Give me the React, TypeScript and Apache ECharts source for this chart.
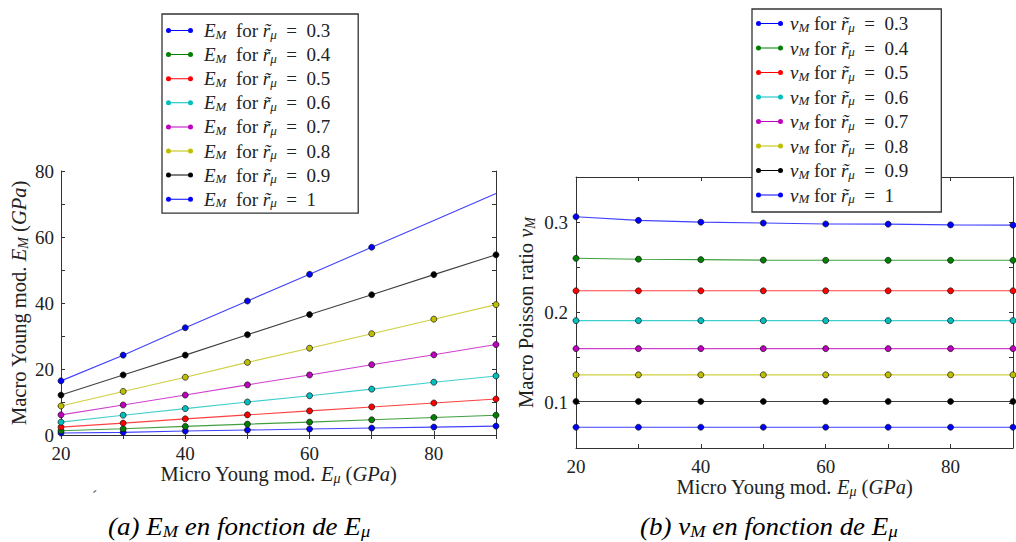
import React, { useEffect, useRef } from "react";
import * as echarts from "echarts";

const microYoung = [20, 30, 40, 50, 60, 70, 80, 90];
const ratios = ["0.3", "0.4", "0.5", "0.6", "0.7", "0.8", "0.9", "1"];
const colors = ["#0000ff", "#008000", "#ff0000", "#00bfbf", "#bf00bf", "#bfbf00", "#000000", "#0000ff"];

const macroYoung03 = [0.6, 0.8, 1.2, 1.5, 1.8, 2.1, 2.4, 2.7];
const macroYoung04 = [1.3, 1.9, 2.6, 3.3, 3.9, 4.6, 5.3, 6.0];
const macroYoung05 = [2.4, 3.6, 4.9, 6.1, 7.3, 8.5, 9.7, 10.9];
const macroYoung06 = [3.9, 6.0, 8.0, 10.0, 11.9, 13.9, 16.0, 17.9];
const macroYoung07 = [6.1, 9.1, 12.1, 15.2, 18.2, 21.3, 24.3, 27.4];
const macroYoung08 = [8.8, 13.2, 17.5, 22.0, 26.3, 30.7, 35.1, 39.5];
const macroYoung09 = [12.1, 18.2, 24.2, 30.4, 36.5, 42.5, 48.6, 54.6];
const macroYoung10 = [16.4, 24.2, 32.5, 40.6, 48.7, 56.9, 65.0, 73.2];
const macroYoung = [macroYoung03, macroYoung04, macroYoung05, macroYoung06, macroYoung07, macroYoung08, macroYoung09, macroYoung10];

const poisson03 = [0.306, 0.302, 0.3, 0.299, 0.298, 0.2978, 0.297, 0.2967];
const poisson04 = [0.26, 0.259, 0.2585, 0.258, 0.2578, 0.2578, 0.2578, 0.2578];
const poisson05 = [0.224, 0.224, 0.224, 0.224, 0.224, 0.224, 0.224, 0.224];
const poisson06 = [0.191, 0.191, 0.191, 0.191, 0.191, 0.191, 0.191, 0.191];
const poisson07 = [0.16, 0.16, 0.16, 0.16, 0.16, 0.16, 0.16, 0.16];
const poisson08 = [0.131, 0.131, 0.131, 0.131, 0.131, 0.131, 0.131, 0.131];
const poisson09 = [0.1015, 0.1015, 0.1015, 0.1015, 0.1015, 0.1015, 0.1015, 0.1015];
const poisson10 = [0.073, 0.073, 0.073, 0.073, 0.073, 0.073, 0.073, 0.073];
const poisson = [poisson03, poisson04, poisson05, poisson06, poisson07, poisson08, poisson09, poisson10];

// markers absent in the reference for the top curve of (a)
const missingMarkersYoung10 = [80, 90];

const FONT = "'Liberation Serif', serif";
const TXT = "#222";

const richBase = (size: number, lh: number) => ({
  n: { fontFamily: FONT, fontSize: size, lineHeight: lh, color: TXT },
  it: { fontFamily: FONT, fontSize: size, lineHeight: lh, color: TXT, fontStyle: "italic" },
  sub: { fontFamily: FONT, fontSize: Math.round(size * 0.68), color: TXT, fontStyle: "italic", verticalAlign: "bottom" },
});

const legendIcon =
  "path://M0.5,3A2.5,2.5,0,1,1,5.5,3A2.5,2.5,0,1,1,0.5,3ZM3,2.5L25,2.5L25,3.5L3,3.5ZM22.5,3A2.5,2.5,0,1,1,27.5,3A2.5,2.5,0,1,1,22.5,3Z";

export default function App() {
  const ref = useRef<HTMLDivElement>(null);
  useEffect(() => {
    if (!ref.current) return;
    const chart = echarts.init(ref.current, null, { renderer: "svg" });
    const axisLine = { show: true, lineStyle: { color: "#333", width: 1 } };
    const tick = { show: true, inside: true, length: 4, lineStyle: { color: "#333" } };
    const labelStyle = { fontFamily: FONT, fontSize: 19, color: TXT };

    const youngNames = ratios.map((r) => "E_M r=" + r);
    const poissonNames = ratios.map((r) => "nu_M r=" + r);

    const series: any[] = [];
    ratios.forEach((r, k) => {
      series.push({
        name: youngNames[k],
        type: "line",
        xAxisIndex: 0,
        yAxisIndex: 0,
        data: microYoung.map((x, i) => {
          const item: any = { value: [x, macroYoung[k][i]] };
          if (k === ratios.length - 1 && missingMarkersYoung10.includes(x)) item.symbol = "none";
          return item;
        }),
        symbol: "circle",
        symbolSize: 6,
        showSymbol: true,
        lineStyle: { color: colors[k], width: 1.1, opacity: 0.75 },
        itemStyle: { color: colors[k], borderColor: "#111", borderWidth: 0.7 },
        z: 3,
      });
    });
    ratios.forEach((r, k) => {
      series.push({
        name: poissonNames[k],
        type: "line",
        xAxisIndex: 1,
        yAxisIndex: 1,
        data: microYoung.map((x, i) => [x, poisson[k][i]]),
        symbol: "circle",
        symbolSize: 6,
        lineStyle: { color: colors[k], width: 1.1, opacity: 0.75 },
        itemStyle: { color: colors[k], borderColor: "#111", borderWidth: 0.7 },
        z: 3,
      });
    });

    const legendCommon = {
      orient: "vertical",
      icon: legendIcon,
      itemWidth: 27,
      itemHeight: 5,
      backgroundColor: "#fff",
      borderColor: "#333",
      borderWidth: 1.3,
      borderRadius: 0,
      selectedMode: false,
      itemStyle: { borderWidth: 0 },
      z: 10,
    };

    const captionRich = {
      it: { fontFamily: FONT, fontSize: 25, lineHeight: 26, fontStyle: "italic", color: "#111" },
      sub: { fontFamily: FONT, fontSize: 17, fontStyle: "italic", color: "#111", verticalAlign: "bottom" },
    };

    chart.setOption({
      animation: false,
      backgroundColor: "#fff",
      textStyle: { fontFamily: FONT, color: TXT },
      grid: [
        { left: 61, top: 171, width: 435, height: 264 },
        { left: 576, top: 177, width: 446, height: 271 },
      ],
      xAxis: [
        {
          type: "value", gridIndex: 0, min: 20, max: 90, interval: 10,
          axisLine, axisTick: tick, splitLine: { show: false },
          axisLabel: { ...labelStyle, margin: 9, formatter: (v: number) => (v % 20 === 0 ? String(v) : "") },
          name: "{n|Micro Young mod. }{it|E}{sub|μ}{n| (}{it|GPa}{n|)}",
          nameLocation: "middle", nameGap: 27,
          nameTextStyle: { fontFamily: FONT, rich: richBase(20.5, 22) },
        },
        {
          type: "value", gridIndex: 1, min: 20, max: 90, interval: 10,
          axisLine, axisTick: tick, splitLine: { show: false },
          axisLabel: { ...labelStyle, margin: 9, formatter: (v: number) => (v % 20 === 0 ? String(v) : "") },
          name: "{n|Micro Young mod. }{it|E}{sub|μ}{n| (}{it|GPa}{n|)}",
          nameLocation: "middle", nameGap: 23,
          nameTextStyle: { fontFamily: FONT, rich: richBase(20.5, 22) },
        },
        {
          type: "value", gridIndex: 0, position: "top", min: 20, max: 90, interval: 10,
          axisLine, axisTick: tick, axisLabel: { show: false }, splitLine: { show: false },
        },
        {
          type: "value", gridIndex: 1, position: "top", min: 20, max: 90, interval: 10,
          axisLine, axisTick: tick, axisLabel: { show: false }, splitLine: { show: false },
        },
      ],
      yAxis: [
        {
          type: "value", gridIndex: 0, min: 0, max: 80, interval: 10,
          axisLine, axisTick: tick, splitLine: { show: false },
          axisLabel: { ...labelStyle, margin: 7, formatter: (v: number) => (v % 20 === 0 ? String(v) : "") },
          name: "{n|Macro Young mod. }{it|E}{sub|M}{n| (}{it|GPa}{n|)}",
          nameLocation: "middle", nameGap: 31, nameRotate: 90,
          nameTextStyle: { fontFamily: FONT, rich: richBase(20.5, 22) },
        },
        {
          type: "value", gridIndex: 1, min: 0.05, max: 0.35, interval: 0.05,
          axisLine, axisTick: tick, splitLine: { show: false },
          axisLabel: { ...labelStyle, margin: 8, formatter: (v: number) => (Math.round(v * 20) % 2 === 0 ? v.toFixed(1) : "") },
          name: "{n|Macro Poisson ratio }{it|ν}{sub|M}",
          nameLocation: "middle", nameGap: 39, nameRotate: 90,
          nameTextStyle: { fontFamily: FONT, rich: richBase(20.5, 22) },
        },
        {
          type: "value", gridIndex: 0, position: "right", min: 0, max: 80, interval: 10,
          axisLine, axisTick: tick, axisLabel: { show: false }, splitLine: { show: false },
        },
        {
          type: "value", gridIndex: 1, position: "right", min: 0.05, max: 0.35, interval: 0.05,
          axisLine, axisTick: tick, axisLabel: { show: false }, splitLine: { show: false },
        },
      ],
      legend: [
        {
          ...legendCommon,
          left: 162, top: 14,
          padding: [7, 28, 4, 4],
          itemGap: 4.6,
          textStyle: { fontFamily: FONT, rich: richBase(19, 20), padding: [0, 0, 0, 6] },
          data: youngNames,
          formatter: (name: string) => {
            const r = ratios[youngNames.indexOf(name)];
            return "{it|E}{sub|M}{n|  for }{it|r\u0303}{sub|μ}{n|  =  " + r + "}";
          },
        },
        {
          ...legendCommon,
          left: 752, top: 9,
          padding: [5, 33, 7, 4],
          itemGap: 5,
          textStyle: { fontFamily: FONT, rich: richBase(19, 20), padding: [0, 0, 0, 2] },
          data: poissonNames,
          formatter: (name: string) => {
            const r = ratios[poissonNames.indexOf(name)];
            return "{it|ν}{sub|M}{n| for }{it|r\u0303}{sub|μ}{n|  =  " + r + "}";
          },
        },
      ],
      graphic: [
        {
          type: "text", left: 108, top: 514, scaleX: 1.08,
          style: { text: "{it|(a) E}{sub|M}{it| en fonction de E}{sub|μ}", rich: captionRich },
        },
        {
          type: "text", left: 640, top: 514, scaleX: 1.08,
          style: { text: "{it|(b) ν}{sub|M}{it| en fonction de E}{sub|μ}", rich: captionRich },
        },
        {
          type: "text", left: 92, top: 488,
          style: { text: "´", fontFamily: FONT, fontSize: 16, fill: "#444" },
        },
      ],
      series,
    });
    return () => chart.dispose();
  }, []);
  return <div ref={ref} style={{ position: "fixed", left: 0, top: 0, width: 1016, height: 542 }} />;
}
